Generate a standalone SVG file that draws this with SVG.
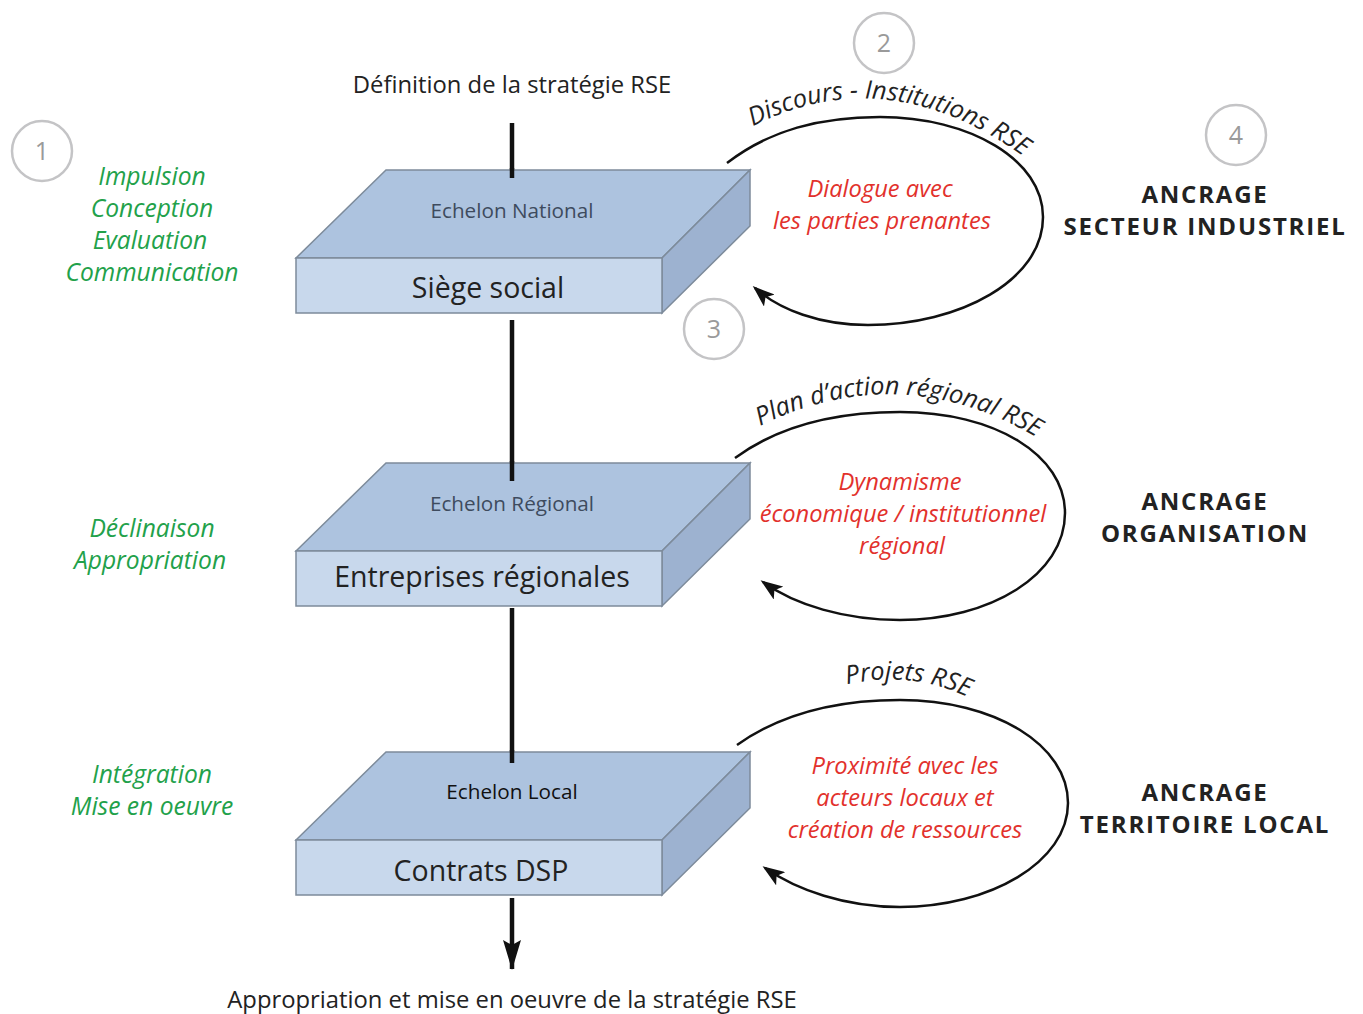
<svg xmlns="http://www.w3.org/2000/svg" width="1363" height="1014" viewBox="0 0 1363 1014">
<defs>
<marker id="ah" viewBox="0 0 22 16" refX="19" refY="8" markerWidth="22" markerHeight="16" markerUnits="userSpaceOnUse" orient="auto">
<path d="M0,0 L22,8 L0,16 L5,8 Z" fill="#111"/>
</marker>
<marker id="ahd" viewBox="0 0 18 30" refX="9" refY="29" markerWidth="18" markerHeight="30" markerUnits="userSpaceOnUse" orient="0">
<path d="M0,0 L9,5 L18,0 L9,30 Z" fill="#111"/>
</marker>
<path id="tp1" d="M730,139 Q885,44 1044,172"/>
<path id="tp2" d="M750,431 Q900,352 1046,443"/>
<path id="tp3" d="M840,686 Q910,668 974,700"/>
</defs>
<style>
text{font-family:"Open Sans","Noto Sans","Liberation Sans",sans-serif}
.top{fill:#adc3df;stroke:#7d8b9b;stroke-width:1.5}
.front{fill:#c8d8ec;stroke:#7d8b9b;stroke-width:1.5}
.side{fill:#9db2d0;stroke:#7d8b9b;stroke-width:1.5}
.ech{font-size:20.7px;fill:#3e4b5e;text-anchor:middle}
.name{font-size:28.5px;fill:#222;text-anchor:middle}
.num circle{fill:#fff;stroke:#c4c4c6;stroke-width:2.5}
.num text{font-size:25px;fill:#9a9a9a;text-anchor:middle}
.green{font-size:24.6px;font-style:italic;fill:#22a14a;text-anchor:middle}
.red{font-size:23.7px;font-style:italic;fill:#e2312c;text-anchor:middle}
.anc{font-size:24px;font-weight:bold;fill:#222;text-anchor:middle;letter-spacing:1.8px}
.cap{font-size:25.3px;font-style:italic;fill:#222}
.plain{font-size:23.8px;fill:#222;text-anchor:middle}
.loop{fill:none;stroke:#111;stroke-width:2.5}
.axis{stroke:#111;stroke-width:4.5;fill:none}
</style>

<g id="connectors">
<line class="axis" x1="512" y1="123" x2="512" y2="177"/>
<line class="axis" x1="512" y1="320" x2="512" y2="481"/>
<line class="axis" x1="512" y1="608" x2="512" y2="763"/>
<line class="axis" x1="512" y1="898" x2="512" y2="969" marker-end="url(#ahd)"/>
<path class="loop" d="M727,163 C770,130 820,117 880,117 C970,117 1043,160 1043,217 C1043,280 960,325 868,325 C820,325 780,310 755,288" marker-end="url(#ah)"/>
<path class="loop" d="M735,458 C780,425 835,412 900,412 C995,412 1065,455 1065,513 C1065,575 990,620 900,620 C845,620 795,605 763,582" marker-end="url(#ah)"/>
<path class="loop" d="M737,745 C782,713 838,700 900,700 C995,700 1068,745 1068,803 C1068,862 990,907 900,907 C845,907 797,890 765,868" marker-end="url(#ah)"/>
</g>

<g id="title-top"><text class="plain" x="512" y="93">Définition de la stratégie RSE</text></g>
<g id="title-bottom"><text class="plain" x="512" y="1008">Appropriation et mise en oeuvre de la stratégie RSE</text></g>

<g id="node-national">
<polygon class="top" points="296,258 386,170 750,170 662,258"/>
<polygon class="side" points="662,258 750,170 750,226 662,313"/>
<rect class="front" x="296" y="258" width="366" height="55"/>
<line class="axis" x1="512" y1="168" x2="512" y2="178"/>
<text class="ech" x="512" y="218">Echelon National</text>
<text class="name" x="488" y="298">Siège social</text>
</g>

<g id="node-regional">
<polygon class="top" points="296,551 386,463 750,463 662,551"/>
<polygon class="side" points="662,551 750,463 750,519 662,606"/>
<rect class="front" x="296" y="551" width="366" height="55"/>
<line class="axis" x1="512" y1="461" x2="512" y2="481"/>
<text class="ech" x="512" y="511">Echelon Régional</text>
<text class="name" x="482" y="587">Entreprises régionales</text>
</g>

<g id="node-local">
<polygon class="top" points="296,840 386,752 750,752 662,840"/>
<polygon class="side" points="662,840 750,752 750,808 662,895"/>
<rect class="front" x="296" y="840" width="366" height="55"/>
<line class="axis" x1="512" y1="750" x2="512" y2="763"/>
<text class="ech" x="512" y="799" style="fill:#111">Echelon Local</text>
<text class="name" x="481" y="881">Contrats DSP</text>
</g>

<g id="num1" class="num"><circle cx="42" cy="151" r="30"/><text x="42" y="160">1</text></g>
<g id="num2" class="num"><circle cx="884" cy="43" r="30"/><text x="884" y="52">2</text></g>
<g id="num3" class="num"><circle cx="714" cy="329" r="30"/><text x="714" y="338">3</text></g>
<g id="num4" class="num"><circle cx="1236" cy="135" r="30"/><text x="1236" y="144">4</text></g>

<g id="green-national">
<text class="green" x="152" y="185">Impulsion</text>
<text class="green" x="152" y="217">Conception</text>
<text class="green" x="150" y="249">Evaluation</text>
<text class="green" x="152" y="281">Communication</text>
</g>
<g id="green-regional">
<text class="green" x="152" y="537">Déclinaison</text>
<text class="green" x="150" y="569">Appropriation</text>
</g>
<g id="green-local">
<text class="green" x="152" y="783">Intégration</text>
<text class="green" x="152" y="815">Mise en oeuvre</text>
</g>

<g id="loop-national">
<text class="cap"><textPath href="#tp1" startOffset="50%" text-anchor="middle">Discours - Institutions RSE</textPath></text>
<text class="red" x="880" y="197">Dialogue avec</text>
<text class="red" x="882" y="229">les parties prenantes</text>
</g>
<g id="loop-regional">
<text class="cap"><textPath href="#tp2" startOffset="50%" text-anchor="middle">Plan d’action régional RSE</textPath></text>
<text class="red" x="900" y="490">Dynamisme</text>
<text class="red" x="903" y="522">économique / institutionnel</text>
<text class="red" x="902" y="554">régional</text>
</g>
<g id="loop-local">
<text class="cap"><textPath href="#tp3" startOffset="50%" text-anchor="middle">Projets RSE</textPath></text>
<text class="red" x="905" y="774">Proximité avec les</text>
<text class="red" x="905" y="806">acteurs locaux et</text>
<text class="red" x="905" y="838">création de ressources</text>
</g>

<g id="anchor-industriel">
<text class="anc" x="1205" y="203">ANCRAGE</text>
<text class="anc" x="1205" y="235">SECTEUR INDUSTRIEL</text>
</g>
<g id="anchor-organisation">
<text class="anc" x="1205" y="510">ANCRAGE</text>
<text class="anc" x="1205" y="542">ORGANISATION</text>
</g>
<g id="anchor-territoire">
<text class="anc" x="1205" y="801">ANCRAGE</text>
<text class="anc" x="1205" y="833">TERRITOIRE LOCAL</text>
</g>
</svg>
